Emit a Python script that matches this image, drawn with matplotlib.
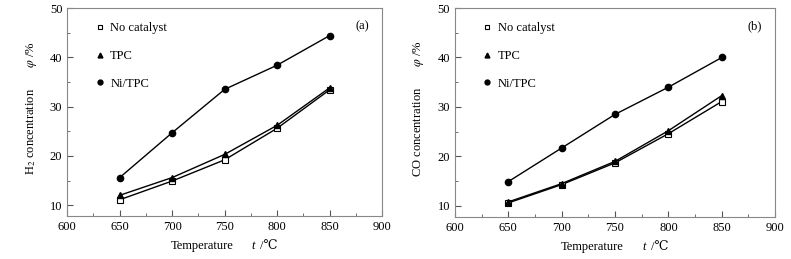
import matplotlib
matplotlib.use('Agg')
import matplotlib.pyplot as plt
from matplotlib.ticker import MultipleLocator

plt.rcParams['font.family'] = ['Liberation Serif', 'DejaVu Serif', 'DejaVu Sans']
plt.rcParams['mathtext.fontset'] = 'stix'

# data
temps = [650, 700, 750, 800, 850]

h2_none = [11.1, 14.9, 19.2, 25.6, 33.4]
h2_tpc = [12.0, 15.6, 20.3, 26.2, 33.8]
h2_ni = [15.6, 24.7, 33.5, 38.4, 44.4]

co_none = [10.6, 14.3, 18.7, 24.6, 31.1]
co_tpc = [10.8, 14.5, 19.0, 25.2, 32.3]
co_ni = [14.9, 21.7, 28.5, 34.0, 40.0]

labels = ['No catalyst', 'TPC', 'Ni/TPC']

fig = plt.figure(figsize=(7.91, 2.59), dpi=100)
ax1 = fig.add_axes([0.085, 0.166, 0.398, 0.803])
ax2 = fig.add_axes([0.575, 0.163, 0.405, 0.806])

fs = 9

def draw(ax, none, tpc, ni, ylabel, tag):
    h1, = ax.plot(temps, none, color='black', lw=1.0, marker='s', ms=4.5,
                  mfc='white', mec='black', mew=0.8)
    h2, = ax.plot(temps, tpc, color='black', lw=1.0, marker='^', ms=5)
    h3, = ax.plot(temps, ni, color='black', lw=1.0, marker='o', ms=4.5)
    ax.set_xlim(600, 900)
    ax.set_ylim(7.8, 50)
    ax.xaxis.set_major_locator(MultipleLocator(50))
    ax.xaxis.set_minor_locator(MultipleLocator(25))
    ax.yaxis.set_major_locator(MultipleLocator(10))
    ax.yaxis.set_minor_locator(MultipleLocator(5))
    ax.tick_params(which='both', direction='in', labelsize=fs, color='#555555')
    ax.tick_params(which='major', length=4)
    ax.tick_params(which='minor', length=2.5)
    for s in ax.spines.values():
        s.set_color('#888888')
        s.set_linewidth(0.8)
    # x label: Temperature   t /℃
    ax.text(0.528, -0.115, 'Temperature', transform=ax.transAxes,
            ha='right', va='top', fontsize=fs)
    ax.text(0.585, -0.115, 't', transform=ax.transAxes, style='italic',
            ha='left', va='top', fontsize=fs)
    ax.text(0.611, -0.115, '/\u2103', transform=ax.transAxes,
            ha='left', va='top', fontsize=fs)
    ax.set_ylabel(ylabel, fontsize=fs)
    ax.yaxis.set_label_coords(-0.09, 0.52)
    ax.text(0.915, 0.9, tag, transform=ax.transAxes, fontsize=fs)
    leg = ax.legend([h1, h2, h3], labels, loc='upper left', frameon=False,
                    fontsize=fs, labelspacing=1.25, handlelength=0.6,
                    handletextpad=0.55, bbox_to_anchor=(0.055, 0.985))
    for lh in leg.legend_handles:
        lh.set_linestyle('none')
        lh.set_markersize(3.5)

draw(ax1, h2_none, h2_tpc, h2_ni,
     'H$_2$ concentration       $\\varphi$ /%', '(a)')
draw(ax2, co_none, co_tpc, co_ni,
     'CO concentration       $\\varphi$ /%', '(b)')

fig.savefig('out.png', dpi=100)
